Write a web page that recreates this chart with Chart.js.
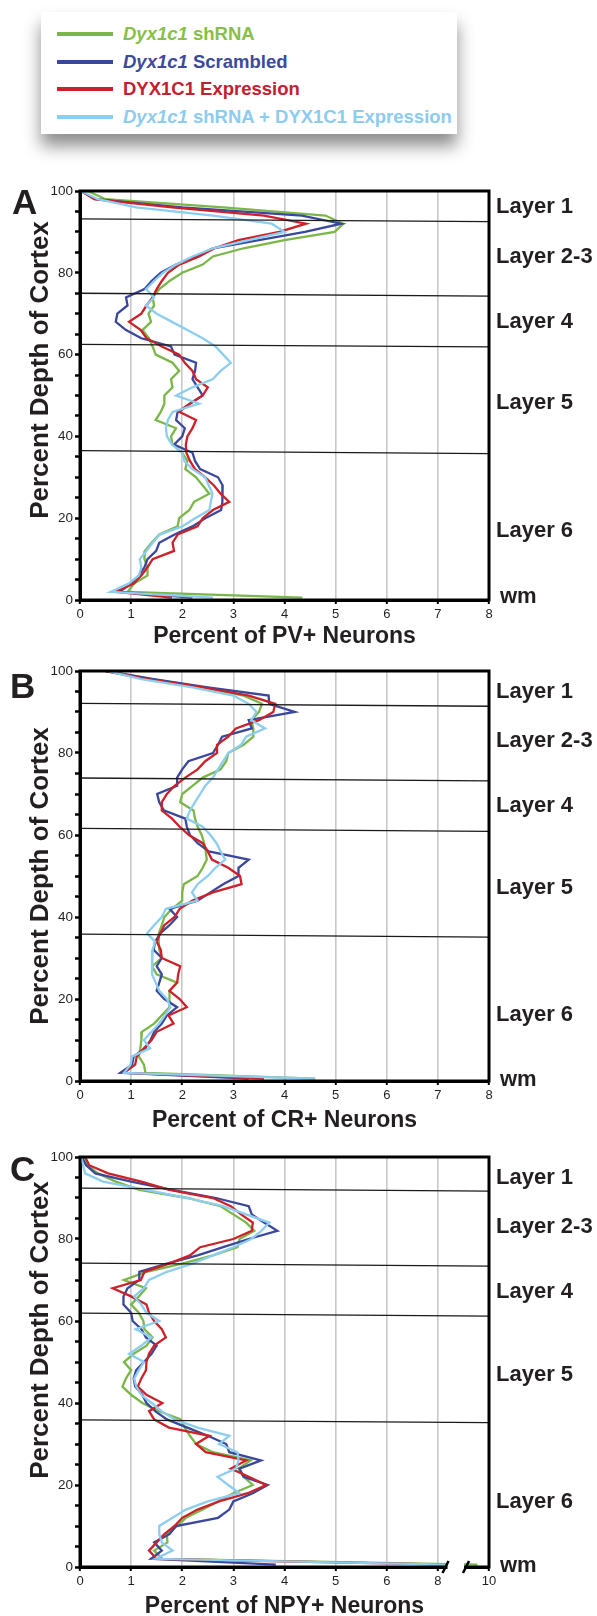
<!DOCTYPE html>
<html>
<head>
<meta charset="utf-8">
<script src="https://cdn.jsdelivr.net/npm/chart.js@4.4.1/dist/chart.umd.min.js"></script>
<style>
  body { margin: 0; width: 597px; height: 1616px; background: #fff; position: relative; overflow: hidden;
         font-family: "Liberation Sans", Arial, Helvetica, sans-serif; color: #231f20; }
  canvas { position: absolute; left: 0; }
  .legend { position: absolute; left: 41px; top: 12px; width: 416px; height: 122px; background: #fff;
            box-shadow: 0 12px 16px rgba(0,0,0,0.45); }
  .legend .sw { position: absolute; left: 16px; width: 56px; height: 4px; }
  .legend .tx { position: absolute; left: 82px; font-size: 18.5px; line-height: 18.5px; font-weight: bold; white-space: nowrap; }
  .letter { position: absolute; font-size: 35px; line-height: 35px; font-weight: bold; }
  .layer { position: absolute; left: 496px; font-size: 22px; line-height: 22px; font-weight: bold; white-space: nowrap; }
  .wm { left: 500px; }
  .ytitle { position: absolute; left: 39px; font-size: 26px; line-height: 26px; font-weight: bold; white-space: nowrap;
            transform: translate(-50%, -50%) rotate(-90deg); }
</style>
</head>
<body>
<div class="legend" id="legend"></div>

<canvas id="pv" width="597" height="480" style="top:171px"></canvas>
<canvas id="cr" width="597" height="484" style="top:651px"></canvas>
<canvas id="npy" width="597" height="484" style="top:1137px"></canvas>

<div class="ytitle" style="top:370px">Percent Depth of Cortex</div>
<div class="ytitle" style="top:876px">Percent Depth of Cortex</div>
<div class="ytitle" style="top:1330px">Percent Depth of Cortex</div>

<div class="letter" style="left:12px;top:184px">A</div>
<div class="letter" style="left:10px;top:668px">B</div>
<div class="letter" style="left:10px;top:1151px">C</div>

<div class="layer" style="top:195px">Layer 1</div>
<div class="layer" style="top:245px">Layer 2-3</div>
<div class="layer" style="top:310px">Layer 4</div>
<div class="layer" style="top:391px">Layer 5</div>
<div class="layer" style="top:519px">Layer 6</div>
<div class="layer wm" style="top:585px">wm</div>

<div class="layer" style="top:680px">Layer 1</div>
<div class="layer" style="top:729px">Layer 2-3</div>
<div class="layer" style="top:794px">Layer 4</div>
<div class="layer" style="top:876px">Layer 5</div>
<div class="layer" style="top:1003px">Layer 6</div>
<div class="layer wm" style="top:1068px">wm</div>

<div class="layer" style="top:1166px">Layer 1</div>
<div class="layer" style="top:1215px">Layer 2-3</div>
<div class="layer" style="top:1280px">Layer 4</div>
<div class="layer" style="top:1363px">Layer 5</div>
<div class="layer" style="top:1490px">Layer 6</div>
<div class="layer wm" style="top:1554px">wm</div>

<script>
// depth bins (percent depth of cortex), last one is white matter
const depth = [100,98,96,94,92,90,88,86,84,82,80,78,76,74,72,70,68,66,64,62,60,58,56,54,52,50,
               48,46,44,42,40,38,36,34,32,30,28,26,24,22,20,18,16,14,12,10,8,6,4,2,0.6];

const seriesNames = ['Dyx1c1 shRNA', 'Dyx1c1 Scrambled', 'DYX1C1 Expression', 'Dyx1c1 shRNA + DYX1C1 Expression'];
const seriesColors = ['#7ab648', '#3a479b', '#cc2129', '#8ccdf0'];
const legendTextColors = ['#86bf4a', '#3b4a9c', '#c3202f', '#8dcbef'];

// A - PV+
const pvShrna = [0.15,0.5,2.8,4.8,5.15,4.98,4.0,3.2,2.6,2.4,2.0,1.75,1.55,1.42,1.45,1.34,1.39,1.22,1.35,1.42,
                 1.48,1.81,1.94,1.78,1.81,1.65,1.65,1.58,1.48,1.88,1.78,1.81,2.0,2.1,2.06,2.27,2.4,2.53,2.23,2.14,
                 1.94,1.91,1.55,1.4,1.27,1.26,1.32,1.32,1.06,0.93,4.35];
const pvScrambled = [0.02,0.3,2.0,4.34,5.11,4.4,3.5,2.6,2.25,1.88,1.58,1.4,1.26,0.9,0.93,0.73,0.7,0.9,1.2,1.78,
                     1.85,2.27,2.25,2.2,2.3,2.4,2.15,1.91,1.88,2.05,2.0,1.84,2.2,2.25,2.35,2.7,2.79,2.79,2.78,2.76,
                     2.45,2.2,1.85,1.55,1.49,1.32,1.26,1.15,1.0,0.77,2.2];
const pvExpression = [0.02,0.28,1.8,3.6,4.42,3.9,3.1,2.63,2.33,1.94,1.72,1.6,1.5,1.42,1.3,1.2,0.96,1.19,1.3,1.6,
                      1.94,2.05,2.2,2.27,2.5,2.4,2.15,1.94,2.27,2.2,2.1,2.07,2.08,2.15,2.25,2.45,2.62,2.75,2.92,2.6,
                      2.4,2.3,1.91,1.81,1.84,1.42,1.32,1.2,1.05,0.7,1.8];
const pvRescue = [0.02,0.35,1.1,2.6,3.75,4.0,3.3,2.6,2.2,1.88,1.62,1.45,1.29,1.45,1.29,1.5,1.8,2.1,2.4,2.65,
                  2.8,2.95,2.75,2.6,2.2,1.88,2.33,1.81,1.72,1.68,1.7,1.8,2.0,2.04,2.2,2.45,2.52,2.59,2.56,2.53,
                  2.25,2.0,1.56,1.42,1.3,1.17,1.2,1.15,0.95,0.6,2.6];
const pvLayerLeft = [93.2, 75.0, 62.5, 36.5];
const pvLayerRight = [92.5, 74.3, 61.9, 35.8];

// B - CR+
const crShrna = [0.55,1.4,2.4,3.2,3.56,3.5,3.35,3.39,3.39,3.2,2.9,2.86,2.75,2.4,2.2,2.0,1.96,2.22,2.25,2.3,
                 2.38,2.43,2.46,2.48,2.4,2.3,2.03,2.0,2.0,1.8,1.65,1.6,1.54,1.54,1.55,1.6,1.41,1.5,1.9,1.75,
                 1.75,1.75,1.6,1.45,1.21,1.2,1.18,1.15,1.25,1.28,4.6];
const crScrambled = [0.5,1.44,2.5,3.69,3.7,4.2,3.3,3.36,2.78,2.7,2.6,2.12,2.0,1.9,1.9,1.51,1.55,1.64,2.06,2.09,
                     2.15,2.3,2.52,3.3,3.1,3.1,2.8,2.55,2.3,1.75,1.9,1.75,1.57,1.47,1.44,1.6,1.5,1.6,1.55,1.5,
                     1.65,1.9,1.7,1.6,1.45,1.38,1.28,1.05,1.02,0.79,3.3];
const crExpression = [0.5,1.3,2.4,3.3,3.82,3.78,3.5,3.05,2.9,2.68,2.68,2.45,2.3,2.06,1.85,1.7,1.6,1.6,1.8,1.95,
                      2.13,2.4,2.5,2.58,2.9,3.13,3.16,2.6,2.2,1.95,1.85,1.65,1.57,1.5,1.58,1.6,1.96,1.92,1.9,1.75,
                      1.95,2.09,1.73,1.83,1.5,1.4,1.25,1.11,1.08,0.86,3.6];
const crRescue = [0.53,1.2,2.2,3.0,3.3,3.45,3.35,3.62,3.25,3.15,2.9,2.8,2.7,2.6,2.45,2.35,2.25,2.15,2.09,2.4,
                  2.55,2.67,2.75,2.84,2.65,2.5,2.3,2.19,2.3,1.68,1.6,1.45,1.31,1.47,1.42,1.41,1.41,1.41,1.48,1.55,
                  1.7,1.77,1.66,1.55,1.4,1.25,1.37,1.02,0.99,0.86,4.6];
const crLayerLeft = [92.1, 73.9, 61.6, 35.8];
const crLayerRight = [91.4, 73.2, 60.9, 35.1];

// C - NPY+ (axis broken between 6 and 10)
const npyShrna = [0.05,0.15,0.35,0.7,1.16,2.1,2.75,3.0,3.25,3.41,3.12,3.08,2.6,2.0,1.3,0.86,1.29,1.15,1.0,1.15,
                  1.24,1.26,1.42,1.3,1.05,0.86,1.0,0.9,0.83,1.0,1.22,1.55,1.97,2.05,2.15,2.27,2.6,3.34,3.1,3.2,
                  3.38,3.0,2.7,2.4,2.07,1.9,1.7,1.71,1.45,1.61,9.55];
const npyScrambled = [0.03,0.12,0.3,1.0,1.8,2.66,3.3,3.36,3.6,3.86,3.3,2.8,2.3,1.7,1.16,1.16,0.93,0.85,0.85,1.0,
                      1.03,1.2,1.29,1.5,1.4,1.25,1.1,1.05,1.08,1.22,1.3,1.47,1.7,2.1,2.5,2.86,2.92,3.54,3.12,3.2,
                      3.67,3.38,3.0,2.92,2.7,1.88,1.75,1.45,1.6,1.39,3.83];
const npyExpression = [0.1,0.18,0.55,1.2,1.75,2.6,2.95,3.15,3.38,3.36,3.0,2.35,2.15,1.74,1.26,1.19,0.64,1.0,1.3,1.35,
                       1.45,1.6,1.68,1.45,1.35,1.3,1.29,1.2,1.13,1.3,1.61,1.35,1.45,1.74,2.53,2.27,2.46,3.25,2.95,3.3,
                       3.64,3.28,2.72,2.3,2.0,1.85,1.65,1.5,1.35,1.5,8.4];
const npyRescue = [0.02,0.06,0.1,0.45,1.3,2.1,2.8,3.25,3.7,3.55,3.35,3.0,2.6,2.2,1.7,1.35,1.25,1.06,1.2,1.3,
                   1.55,1.09,1.4,1.2,0.96,1.25,1.15,1.06,1.1,1.2,1.4,1.6,1.85,2.3,2.92,2.72,3.08,3.1,3.05,2.69,
                   2.9,3.12,2.5,2.07,1.81,1.55,1.55,1.6,1.81,1.48,8.4];
const npyLayerLeft = [92.4, 74.1, 61.9, 35.9];
const npyLayerRight = [91.7, 73.4, 61.2, 35.2];
const npyTickLabels = ['0', '1', '2', '3', '4', '5', '6', '8', '10'];

// legend
const legendEl = document.getElementById('legend');
[22, 49.5, 77, 105].forEach((yc, i) => {
  const sw = document.createElement('div');
  sw.className = 'sw';
  sw.style.top = (yc - 2) + 'px';
  sw.style.background = seriesColors[i];
  legendEl.appendChild(sw);
  const tx = document.createElement('div');
  tx.className = 'tx';
  tx.style.top = (yc - 9) + 'px';
  tx.style.color = legendTextColors[i];
  tx.innerHTML = seriesNames[i].replace('Dyx1c1', '<i>Dyx1c1</i>');
  legendEl.appendChild(tx);
});

Chart.defaults.font.family = '"Liberation Sans", Arial, Helvetica, sans-serif';
Chart.defaults.color = '#231f20';

const framePlugin = {
  id: 'frame',
  afterDatasetsDraw(chart) {
    const { ctx, chartArea: a } = chart;
    ctx.save();
    ctx.strokeStyle = '#000';
    ctx.lineWidth = 3;
    ctx.strokeRect(a.left, a.top, a.right - a.left, a.bottom - a.top);
    ctx.restore();
  }
};

// axis break marks on the NPY panel
const breakPlugin = {
  id: 'axisBreak',
  afterDraw(chart) {
    const { ctx, scales: { x, y } } = chart;
    const x1 = x.getPixelForValue(7.15), x2 = x.getPixelForValue(7.55), yb = y.getPixelForValue(0);
    ctx.save();
    ctx.fillStyle = '#fff';
    ctx.fillRect(x1 + 2, yb - 6, x2 - x1 - 4, 10);
    ctx.strokeStyle = '#000';
    ctx.lineWidth = 2.5;
    ctx.beginPath();
    ctx.moveTo(x1 - 3, yb + 6); ctx.lineTo(x1 + 3, yb - 6);
    ctx.moveTo(x2 - 3, yb + 6); ctx.lineTo(x2 + 3, yb - 6);
    ctx.stroke();
    ctx.restore();
  }
};

function buildPanel(cfg) {
  const datasets = [];
  cfg.layerLeft.forEach((yl, i) => {
    datasets.push({
      label: 'layer boundary',
      data: [{ x: 0, y: yl }, { x: cfg.xMax, y: cfg.layerRight[i] }],
      borderColor: '#1a1a1a',
      borderWidth: 1.3,
      order: 0
    });
  });
  cfg.series.forEach((vals, i) => {
    datasets.push({
      label: seriesNames[i],
      data: vals.map((v, j) => ({ x: cfg.toAxis(v), y: depth[j] })),
      borderColor: seriesColors[i],
      borderWidth: 2.3,
      order: 4 - i
    });
  });

  return new Chart(document.getElementById(cfg.id), {
    type: 'line',
    data: { datasets },
    plugins: cfg.plugins,
    options: {
      responsive: false,
      devicePixelRatio: 1,
      animation: false,
      layout: { padding: { top: 20, right: 108, left: 0, bottom: 0 } },
      plugins: { legend: { display: false }, tooltip: { enabled: false } },
      elements: {
        point: { radius: 0 },
        line: { tension: 0, fill: false, borderJoinStyle: 'miter' }
      },
      scales: {
        x: {
          type: 'linear', min: 0, max: cfg.xMax,
          afterFit: (s) => { s.height = cfg.xHeight; },
          ticks: { stepSize: 1, autoSkip: false, maxRotation: 0, padding: 3, font: { size: 13 },
                   callback: cfg.tickLabel },
          grid: { color: '#c8c8c8', lineWidth: 1.6, tickColor: '#000', tickLength: 4, tickWidth: 2 },
          border: { color: '#000', width: 3 },
          title: { display: true, text: cfg.xTitle, font: { size: 23, weight: 'bold' },
                   padding: { top: 0, bottom: cfg.titlePad } }
        },
        y: {
          type: 'linear', min: 0, max: 100,
          afterFit: (s) => { s.width = 80; },
          ticks: { stepSize: 5, autoSkip: false, padding: 2, font: { size: 13.5 },
                   callback: (v) => (v % 20 === 0 ? v : '') },
          grid: { drawOnChartArea: false, tickColor: '#000', tickLength: 5, tickWidth: 2.5 },
          border: { color: '#000', width: 3 },
          title: { display: false }
        }
      }
    }
  });
}

const same = (v) => v;
const npyAxis = (v) => (v <= 6 ? v : 6 + (v - 6) / 2);

buildPanel({
  id: 'pv', xMax: 8, xHeight: 51, titlePad: 1, toAxis: same,
  tickLabel: (v) => v, xTitle: 'Percent of PV+ Neurons',
  series: [pvShrna, pvScrambled, pvExpression, pvRescue],
  layerLeft: pvLayerLeft, layerRight: pvLayerRight, plugins: [framePlugin]
});
buildPanel({
  id: 'cr', xMax: 8, xHeight: 54, titlePad: 1, toAxis: same,
  tickLabel: (v) => v, xTitle: 'Percent of CR+ Neurons',
  series: [crShrna, crScrambled, crExpression, crRescue],
  layerLeft: crLayerLeft, layerRight: crLayerRight, plugins: [framePlugin]
});
buildPanel({
  id: 'npy', xMax: npyAxis(10), xHeight: 54, titlePad: 1, toAxis: npyAxis,
  tickLabel: (v) => npyTickLabels[v], xTitle: 'Percent of NPY+ Neurons',
  series: [npyShrna, npyScrambled, npyExpression, npyRescue],
  layerLeft: npyLayerLeft, layerRight: npyLayerRight, plugins: [framePlugin, breakPlugin]
});
</script>
</body>
</html>
